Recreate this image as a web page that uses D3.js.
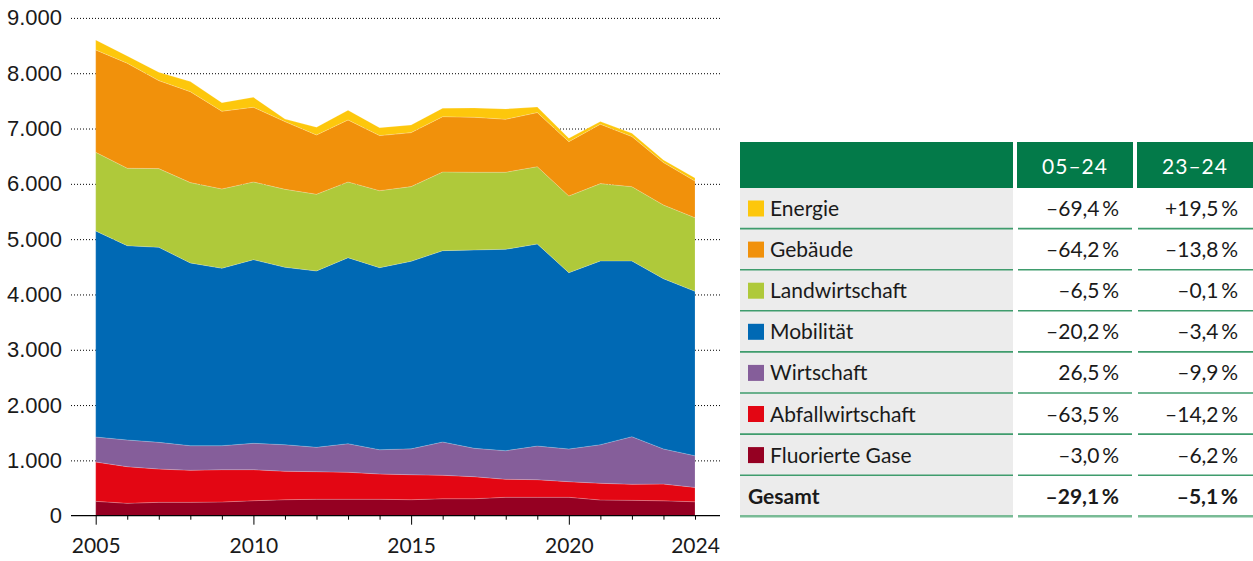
<!DOCTYPE html>
<html>
<head>
<meta charset="utf-8">
<script src="https://cdn.jsdelivr.net/npm/d3@7"></script>
<style>
  body { margin: 0; background: #fff; }
  svg { display: block; }
</style>
</head>
<body>
<script>

// Emissionen nach Sektoren, 2005-2024
var years = [2005, 2006, 2007, 2008, 2009, 2010, 2011, 2012, 2013, 2014,
             2015, 2016, 2017, 2018, 2019, 2020, 2021, 2022, 2023, 2024];

var fluorierteGase = [260, 224, 242, 242, 248, 271, 289, 297, 297, 297, 289, 307, 307, 333, 333, 333, 284, 278, 269, 252];
var abfallwirtschaft = [711, 662, 602, 579, 584, 561, 514, 499, 488, 457, 452, 424, 398, 325, 318, 282, 302, 290, 303, 260];
var wirtschaft = [452, 483, 483, 445, 434, 477, 481, 441, 517, 439, 468, 602, 514, 517, 609, 591, 698, 861, 635, 572];
var mobilitaet = [3725, 3513, 3526, 3304, 3208, 3320, 3208, 3188, 3363, 3292, 3391, 3459, 3586, 3642, 3653, 3188, 3322, 3177, 3078, 2973];
var landwirtschaft = [1423, 1400, 1422, 1452, 1434, 1405, 1410, 1387, 1369, 1392, 1350, 1423, 1405, 1393, 1398, 1387, 1398, 1343, 1332, 1331];
var gebaeude = [1850, 1899, 1591, 1645, 1405, 1351, 1223, 1072, 1122, 995, 976, 1000, 994, 958, 977, 982, 1074, 905, 768, 662];
var energie = [180, 132, 152, 181, 155, 181, 45, 140, 175, 144, 138, 152, 169, 186, 103, 62, 47, 61, 46, 55];

var yTicks = [0, 1000, 2000, 3000, 4000, 5000, 6000, 7000, 8000, 9000];
var xLabelYears = [2005, 2010, 2015, 2020, 2024];

// table (top to bottom)
var tableLabels = ["Energie", "Gebäude", "Landwirtschaft", "Mobilität", "Wirtschaft", "Abfallwirtschaft", "Fluorierte Gase", "Gesamt"];
var tableHeads = ["05–24", "23–24"];
var change0524 = ["–69,4\u2009%", "–64,2\u2009%", "–6,5\u2009%", "–20,2\u2009%", "26,5\u2009%", "–63,5\u2009%", "–3,0\u2009%", "–29,1\u2009%"];
var change2324 = ["+19,5\u2009%", "–13,8\u2009%", "–0,1\u2009%", "–3,4\u2009%", "–9,9\u2009%", "–14,2\u2009%", "–6,2\u2009%", "–5,1\u2009%"];

//Stack order bottom -> top
var keys = ["Fluorierte Gase", "Abfallwirtschaft", "Wirtschaft", "Mobilität", "Landwirtschaft", "Gebäude", "Energie"];
var series = [fluorierteGase, abfallwirtschaft, wirtschaft, mobilitaet, landwirtschaft, gebaeude, energie];

var colors = {
    "Energie": "#fdc70c",
    "Gebäude": "#f1910b",
    "Landwirtschaft": "#afc93a",
    "Mobilität": "#0069b4",
    "Wirtschaft": "#855e9a",
    "Abfallwirtschaft": "#e30613",
    "Fluorierte Gase": "#950022"
};

var rows = years.map(function(yr, i) {
    var r = { year: yr };
    keys.forEach(function(k, j) { r[k] = series[j][i]; });
    return r;
});

var w = 1253;
var h = 561;

var svg = d3.select("body").append("svg")
    .attr("width", w)
    .attr("height", h);

//Scales
var x = d3.scaleLinear()
    .domain([2005, 2024])
    .range([95.7, 695]);

var y = d3.scaleLinear()
    .domain([0, 9000])
    .range([515.7, 17.9]);

var gridLeft = 71;
var gridRight = 720;

var de = d3.formatLocale({ decimal: ",", thousands: ".", grouping: [3], currency: ["", "€"] });
var fmt = de.format(",");

//Y axis with dotted gridlines
var yAxis = d3.axisLeft(y)
    .tickValues(yTicks)
    .tickSize(gridRight - gridLeft)
    .tickPadding(9)
    .tickFormat(fmt);

var yG = svg.append("g")
    .attr("transform", "translate(" + gridRight + ",0)")
    .call(yAxis);

yG.select(".domain").remove();
yG.selectAll(".tick line")
    .attr("stroke", "#000")
    .attr("stroke-width", 1)
    .attr("stroke-dasharray", "1,2")
    .style("display", function(d) { return d === 0 ? "none" : null; });
yG.selectAll(".tick text")
    .style("font-family", "'Liberation Sans', Arial, sans-serif")
    .style("font-size", "22px")
    .attr("fill", "#1a1a1a");

//Stacked areas
var stack = d3.stack().keys(keys);
var layers = stack(rows);

var area = d3.area()
    .x(function(d) { return x(d.data.year); })
    .y0(function(d) { return y(d[0]); })
    .y1(function(d) { return y(d[1]); });

svg.append("g")
    .selectAll("path")
    .data(layers)
    .enter()
        .append("path")
        .attr("d", area)
        .attr("fill", function(d) { return colors[d.key]; })
        .attr("stroke", "rgba(255,255,255,0.3)")
        .attr("stroke-width", 0.6);

//X axis
var xAxis = d3.axisBottom(x)
    .tickValues(years)
    .tickSizeOuter(0)
    .tickFormat(function(d) { return xLabelYears.indexOf(d) >= 0 ? d : ""; });

var xG = svg.append("g")
    .attr("transform", "translate(0," + y(0) + ")")
    .call(xAxis);

xG.select(".domain").remove();
xG.append("line")
    .attr("x1", gridLeft)
    .attr("x2", gridRight)
    .attr("stroke", "#000")
    .attr("stroke-width", 1.2);
xG.selectAll(".tick line")
    .attr("stroke", "#000")
    .attr("y2", function(d) { return (d % 5 === 0) ? 9 : 4; });
xG.selectAll(".tick text")
    .attr("y", 37.3)
    .attr("dy", null)
    .style("font-family", "Lato, 'Noto Sans', sans-serif")
    .style("font-size", "21px")
    .attr("fill", "#1a1a1a");

//TABLE
var tbl = svg.append("g").classed("table", true);
var tX = 740, tRight = 1253;
var col1End = 1013, col2Start = 1017, col2End = 1133, col3Start = 1137;
var headTop = 142, headBottom = 188;
var rowH = 41.1;
var green = "#037a49";

tbl.append("rect")
    .attr("x", tX).attr("y", headTop)
    .attr("width", tRight - tX).attr("height", headBottom - headTop)
    .attr("fill", green);
[col1End, col2End].forEach(function(cx) {
    tbl.append("rect")
        .attr("x", cx).attr("y", headTop)
        .attr("width", 4).attr("height", headBottom - headTop)
        .attr("fill", "#fff");
});

tbl.selectAll(".head")
    .data(tableHeads)
    .enter()
        .append("text")
        .classed("head", true)
        .attr("x", function(d, i) { return i === 0 ? (col2Start + col2End) / 2 : (col3Start + tRight) / 2; })
        .attr("y", 174)
        .attr("text-anchor", "middle")
        .attr("fill", "#fff")
        .style("font-family", "Lato, 'Noto Sans', sans-serif")
        .style("font-size", "21px")
        .style("letter-spacing", "1px")
        .text(function(d) { return d; });

tbl.append("rect")
    .attr("x", tX).attr("y", headBottom)
    .attr("width", col1End - tX).attr("height", rowH * tableLabels.length)
    .attr("fill", "#ececec");

var rowG = tbl.selectAll(".row")
    .data(tableLabels)
    .enter()
        .append("g")
        .classed("row", true)
        .attr("transform", function(d, i) { return "translate(0," + (headBottom + i * rowH) + ")"; });

rowG.filter(function(d) { return colors[d]; })
    .append("rect")
    .attr("x", 748).attr("y", 12.5)
    .attr("width", 16).attr("height", 16)
    .attr("fill", function(d) { return colors[d]; });

rowG.append("text")
    .attr("x", function(d) { return colors[d] ? 770 : 748; })
    .attr("y", 28)
    .attr("fill", "#1a1a1a")
    .style("font-family", "Lato, 'Noto Sans', sans-serif")
    .style("font-size", "21px")
    .style("font-weight", function(d) { return d === "Gesamt" ? "bold" : "normal"; })
    .text(function(d) { return d; });

rowG.append("text")
    .attr("x", 1119).attr("y", 28)
    .attr("text-anchor", "end")
    .attr("fill", "#1a1a1a")
    .style("font-family", "Lato, 'Noto Sans', sans-serif")
    .style("font-size", "21px")
    .style("font-weight", function(d) { return d === "Gesamt" ? "bold" : "normal"; })
    .text(function(d, i) { return change0524[i]; });

rowG.append("text")
    .attr("x", 1238).attr("y", 28)
    .attr("text-anchor", "end")
    .attr("fill", "#1a1a1a")
    .style("font-family", "Lato, 'Noto Sans', sans-serif")
    .style("font-size", "21px")
    .style("font-weight", function(d) { return d === "Gesamt" ? "bold" : "normal"; })
    .text(function(d, i) { return change2324[i]; });

//row separator lines
[[tX, col1End], [col2Start + 1, col2End - 1], [col3Start + 1, tRight]].forEach(function(seg) {
    rowG.append("line")
        .attr("x1", seg[0]).attr("x2", seg[1])
        .attr("y1", rowH - 0.5).attr("y2", rowH - 0.5)
        .attr("stroke", function(d, i) { return i === tableLabels.length - 1 ? "#79bb96" : "#3f9c6d"; })
        .attr("stroke-width", function(d, i) { return i === tableLabels.length - 1 ? 2.5 : 1.6; });
});

</script>
</body>
</html>
